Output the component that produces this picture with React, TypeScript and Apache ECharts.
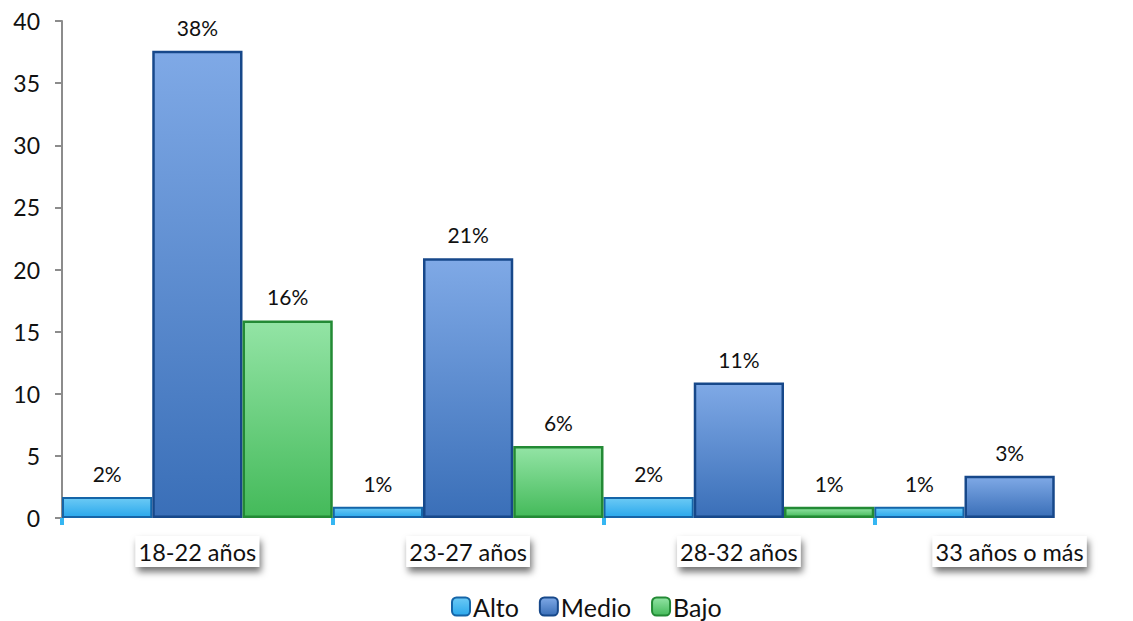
import React, { useEffect, useRef } from "react";
import * as echarts from "echarts";

const categories = ["18-22 años", "23-27 años", "28-32 años", "33 años o más"];
const alto = [1.7, 0.9, 1.7, 0.9];
const medio = [37.6, 20.9, 10.9, 3.4];
const bajo = [15.9, 5.8, 0.9, 0];
const yTicks = { min: 0, max: 40, interval: 5 };

const FONT = "Lato, 'Open Sans', sans-serif";

function grad(top: string, bottom: string) {
  return new echarts.graphic.LinearGradient(0, 0, 0, 1, [
    { offset: 0, color: top },
    { offset: 1, color: bottom },
  ]);
}

const labelCfg = {
  show: true,
  position: "top" as const,
  distance: 13,
  fontSize: 21,
  color: "#111",
  fontFamily: FONT,
  formatter: (p: any) => (p.value > 0 ? Math.round(p.value) + "%" : ""),
};

const nz = (arr: number[]) => arr.map((v) => (v === 0 ? null : v));

export default function App() {
  const ref = useRef<HTMLDivElement>(null);
  useEffect(() => {
    if (!ref.current) return;
    const chart = echarts.init(ref.current, null, { renderer: "svg" });
    chart.setOption({
      animation: false,
      backgroundColor: "#ffffff",
      textStyle: { fontFamily: FONT },
      grid: { left: 62, right: 0, top: 21, bottom: 103, containLabel: false },
      legend: {
        bottom: -3,
        left: 446,
        itemWidth: 18,
        itemHeight: 18,
        itemGap: 20,
        textStyle: { fontSize: 25, color: "#111", fontFamily: FONT, padding: [0, 0, 0, -2] },
        data: ["Alto", "Medio", "Bajo"],
      },
      xAxis: {
        type: "category",
        data: categories,
        boundaryGap: true,
        axisLine: {
          show: true,
          lineStyle: {
            color: "#35b6f2",
            width: 5,
            shadowColor: "rgba(0,0,0,0.3)",
            shadowBlur: 5,
            shadowOffsetY: 4,
          },
        },
        axisTick: {
          show: true,
          alignWithLabel: false,
          length: 7,
          lineStyle: { color: "#35b6f2", width: 4 },
        },
        axisLabel: {
          margin: 18,
          fontSize: 23.5,
          color: "#111",
          fontFamily: FONT,
          backgroundColor: "#ffffff",
          padding: [4, 3, 3, 3],
          shadowColor: "rgba(0,0,0,0.55)",
          shadowBlur: 7,
          shadowOffsetX: 2,
          shadowOffsetY: 5,
        },
      },
      yAxis: {
        type: "value",
        min: yTicks.min,
        max: yTicks.max,
        interval: yTicks.interval,
        splitLine: { show: false },
        axisLine: { show: true, lineStyle: { color: "#8c8c8c", width: 2 } },
        axisTick: { show: true, length: 7, lineStyle: { color: "#8c8c8c", width: 2 } },
        axisLabel: { margin: 22, fontSize: 23, color: "#111", fontFamily: FONT },
      },
      series: [
        {
          name: "Alto",
          type: "bar",
          data: nz(alto),
          barGap: "0%",
          barCategoryGap: "0%",
          itemStyle: {
            color: grad("#6ccaf5", "#2aa8ec"),
            borderColor: "#1565a8",
            borderWidth: 2,
          },
          label: labelCfg,
        },
        {
          name: "Medio",
          type: "bar",
          data: nz(medio),
          barGap: "0%",
          barCategoryGap: "0%",
          itemStyle: {
            color: grad("#7fa9e6", "#3a6fb8"),
            borderColor: "#17488a",
            borderWidth: 2.5,
          },
          label: labelCfg,
        },
        {
          name: "Bajo",
          type: "bar",
          data: nz(bajo),
          barGap: "0%",
          barCategoryGap: "0%",
          itemStyle: {
            color: grad("#93e4a5", "#44ba5a"),
            borderColor: "#238a35",
            borderWidth: 2.5,
          },
          label: labelCfg,
        },
      ],
    });
    return () => chart.dispose();
  }, []);
  return (
    <div
      ref={ref}
      style={{ position: "fixed", left: 0, top: 0, width: 1145, height: 621 }}
    />
  );
}
